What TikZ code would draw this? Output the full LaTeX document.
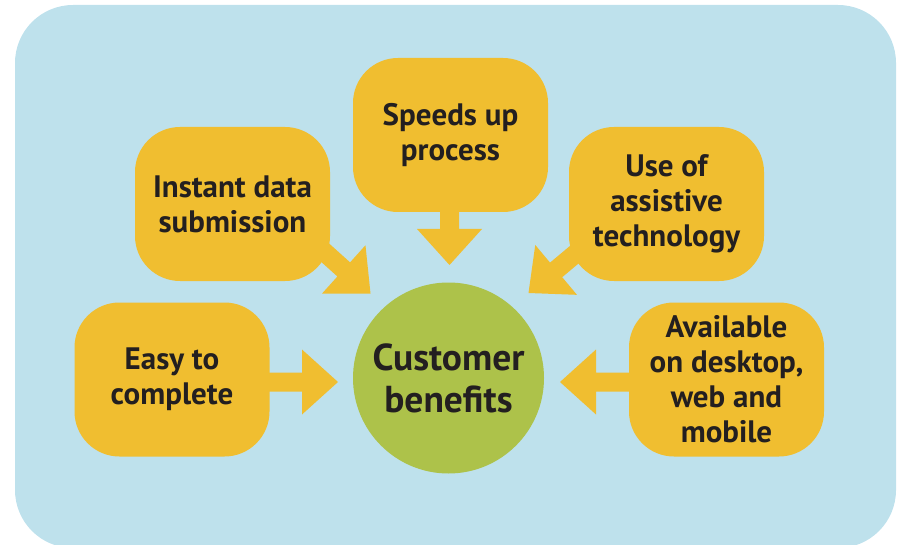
\documentclass[tikz,border=0pt]{standalone}
\usepackage{fontspec}
\setmainfont{PT Sans}
\usetikzlibrary{calc}
\pgfdeclarelayer{behind}
\pgfsetlayers{behind,main}
\definecolor{bgblue}{HTML}{BEE1EC}
\definecolor{boxyellow}{HTML}{F0BE30}
\definecolor{hubgreen}{HTML}{ADC24A}
\definecolor{inkdark}{HTML}{231F20}
% #1 start coordinate, #2 tip coordinate, #3 prefix for helper names
\newcommand\blockarrow[3]{%
  \coordinate (#3base) at ($(#2)!36pt!(#1)$);
  \fill[arrowfill] ($(#1)!9.5pt!90:(#2)$) -- ($(#3base)!9.5pt!90:(#2)$)
    -- ($(#3base)!32.5pt!90:(#2)$) -- (#2)
    -- ($(#3base)!32.5pt!-90:(#2)$) -- ($(#3base)!9.5pt!-90:(#2)$)
    -- ($(#1)!9.5pt!-90:(#2)$) -- cycle;
}
\begin{document}
\begin{tikzpicture}[x=1pt,y=-1pt,
  box/.style={fill=boxyellow, rounded corners=45pt, minimum width=195pt,
    minimum height=154pt, inner sep=0pt, align=center, text=inkdark,
    font=\fontsize{31}{35}\selectfont\bfseries},
  hub/.style={circle, fill=hubgreen, minimum size=191pt, inner sep=0pt,
    align=center, text=inkdark, font=\fontsize{37.5}{42}\selectfont\bfseries},
  arrowfill/.style={fill=boxyellow}]
\useasboundingbox (0,0) rectangle (899,545);

\node[box] (instant) at (232.5,204) {Instant data\\submission};
\node[box] (speeds) at (450.5,135) {Speeds up\\process};
\node[box] (assist) at (666.5,204) {Use of\\assistive\\technology};
\node[box] (easy) at (172,379.5) {Easy to\\complete};
\node[box] (avail) at (726.5,379.5) {Available\\on desktop,\\web and\\mobile};
\node[hub] (hub) at (448.5,378) {Customer\\benefits};

\coordinate (t1) at (370.5,293.5);
\coordinate (s1) at (296,226.5);
\coordinate (t2) at (528.5,293);
\coordinate (s2) at (605,229);
\coordinate (t3) at (449.5,265);
\coordinate (s3) at (449.5,160);
\coordinate (t4) at (338,382);
\coordinate (s4) at (easy.center |- t4);
\coordinate (t5) at (560,382);
\coordinate (s5) at (avail.center |- t5);

\begin{pgfonlayer}{behind}
\fill[bgblue, rounded corners=58pt] (15,5) rectangle (896,548);
\blockarrow{s1}{t1}{a}
\blockarrow{s2}{t2}{b}
\blockarrow{s3}{t3}{c}
\blockarrow{s4}{t4}{d}
\blockarrow{s5}{t5}{e}
\end{pgfonlayer}
\end{tikzpicture}
\end{document}
